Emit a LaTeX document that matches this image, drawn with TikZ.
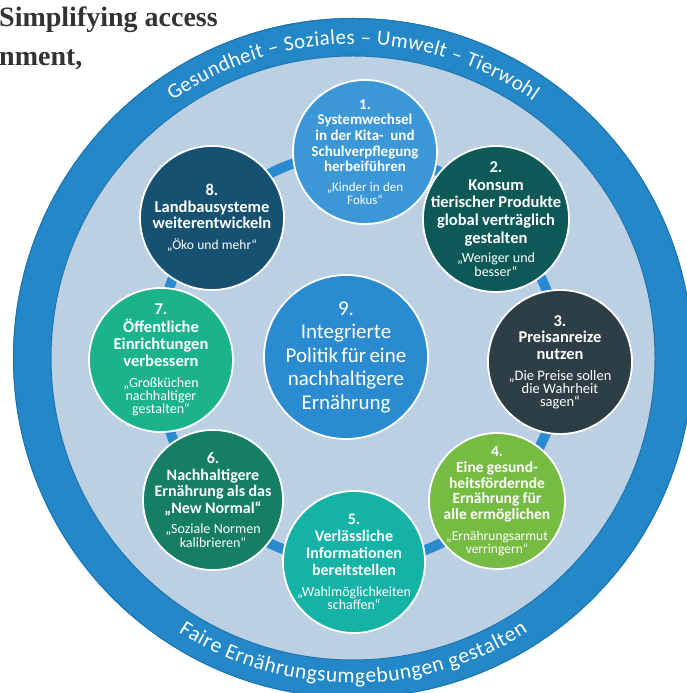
\documentclass[tikz,border=0pt]{standalone}
\usepackage{fontspec}
\setmainfont{Carlito}
\newfontfamily\serifhead{Liberation Serif}
\usetikzlibrary{calc,decorations.text}

\pgfdeclarelayer{base}
\pgfdeclarelayer{links}
\pgfsetlayers{base,links,main}

\definecolor{ringblue}{HTML}{2488C8}
\definecolor{ringedge}{HTML}{1E74AE}
\definecolor{innerfill}{HTML}{BCD0E4}
\definecolor{linkblue}{HTML}{2A8AD0}
\definecolor{headgray}{HTML}{333333}
\definecolor{fillA}{HTML}{3C97D7}
\definecolor{fillB}{HTML}{0D5957}
\definecolor{fillC}{HTML}{2D3E46}
\definecolor{fillD}{HTML}{76BC43}
\definecolor{fillE}{HTML}{15B2A6}
\definecolor{fillF}{HTML}{157E63}
\definecolor{fillG}{HTML}{1BB38B}
\definecolor{fillH}{HTML}{175171}
\definecolor{fillI}{HTML}{2A8BD0}

\newcommand\titlefont[2]{\fontsize{#1}{#2}\selectfont\bfseries}
\newcommand\quotefont[2]{\fontsize{#1}{#2}\selectfont\mdseries}
\newcommand\toprimfont{\fontsize{21}{21}\selectfont}
\newcommand\lowrimfont{\fontsize{21.5}{21.5}\selectfont}

\tikzset{
  bubble/.style={circle, draw=white, line width=1.8pt, inner sep=0pt, minimum size=#1},
  blurb/.style={text=white, align=center, text width=160pt, inner sep=0pt},
  link/.style={draw=linkblue, line width=10pt},
  heading/.style={anchor=base west, inner sep=0pt, text=headgray,
    font=\serifhead\bfseries\fontsize{28}{30}\selectfont},
}

\begin{document}
\begin{tikzpicture}[x=1pt,y=1pt]
\useasboundingbox (0,0) rectangle (686,693);
\coordinate (O) at (353,335);

% page, outer ring and light inner disc
\begin{pgfonlayer}{base}
  \fill[white] (0,0) rectangle (686,693);
  \fill[ringblue] (O) circle[radius=340];
  \draw[ringedge, line width=1pt] (O) circle[radius=339.5];
  \fill[innerfill] (O) circle[radius=302];
  \draw[ringedge, line width=1pt] (O) circle[radius=302];
\end{pgfonlayer}

% ring captions
\path[decorate, decoration={text along path, text align={fit to path},
  text color=white, text={|\toprimfont|Gesundheit – Soziales – Umwelt – Tierwohl}}]
  ($(O)+(125:314)$) arc[start angle=125, end angle=55, radius=314];
\path[decorate, decoration={text along path, text align={fit to path},
  text color=white, text={|\lowrimfont|Faire Ernährungsumgebungen gestalten}}]
  ($(O)+(237.5:325)$) arc[start angle=237.5, end angle=302.5, radius=325];

% the nine fields of action
\node[bubble=144pt, fill=fillA] (c1) at (365,541) {};
\node[bubble=146pt, fill=fillB] (c2) at (496,474) {};
\node[bubble=144pt, fill=fillC] (c3) at (560,331) {};
\node[bubble=136pt, fill=fillD] (c4) at (497,192) {};
\node[bubble=142pt, fill=fillE] (c5) at (354,131) {};
\node[bubble=140pt, fill=fillF] (c6) at (213,193) {};
\node[bubble=144pt, fill=fillG] (c7) at (161,333) {};
\node[bubble=144pt, fill=fillH] (c8) at (212,475) {};
\node[bubble=164pt, fill=fillI] (c9) at (346,336) {};

\node[blurb] (t1) at (c1) {{\titlefont{15}{15.7}1.\\Systemwechsel\\in der Kita-~ und\\Schulverpflegung\\herbeiführen\par}\vspace{6pt}{\quotefont{13}{13.3}„Kinder in den\\Fokus“\par}};
\node[blurb] (t2) at (c2) {{\titlefont{16.5}{17.7}2.\\Konsum\\tierischer Produkte\\global verträglich\\gestalten\par}\vspace{6pt}{\quotefont{14}{13.5}„Weniger und\\besser“\par}};
\node[blurb] (t3) at (c3) {{\titlefont{16.5}{16.7}3.\\Preisanreize\\nutzen\par}\vspace{8pt}{\quotefont{14.5}{12.8}„Die Preise sollen\\die Wahrheit\\sagen“\par}};
\node[blurb] (t4) at (c4) {{\titlefont{15.5}{15.7}4.\\Eine gesund-\\heitsfördernde\\Ernährung für\\alle ermöglichen\par}\vspace{8pt}{\quotefont{13.5}{12.8}„Ernährungsarmut\\verringern“\par}};
\node[blurb] (t5) at (c5) {{\titlefont{16}{17}5.\\Verlässliche\\Informationen\\bereitstellen\par}\vspace{8pt}{\quotefont{14}{12.8}„Wahlmöglichkeiten\\schaffen“\par}};
\node[blurb] (t6) at (c6) {{\titlefont{16}{16.7}6.\\Nachhaltigere\\Ernährung als das\\„New Normal“\par}\vspace{7pt}{\quotefont{14}{13.3}„Soziale Normen\\kalibrieren“\par}};
\node[blurb] (t7) at (c7) {{\titlefont{16.5}{17.3}7.\\Öffentliche\\Einrichtungen\\verbessern\par}\vspace{8pt}{\quotefont{14}{12.8}„Großküchen\\nachhaltiger\\gestalten“\par}};
\node[blurb] (t8) at (c8) {{\titlefont{16.5}{16.7}8.\\Landbausysteme\\weiterentwickeln\par}\vspace{8pt}{\quotefont{13.5}{13}„Öko und mehr“\par}};
\node[blurb] (t9) at (c9) {{\fontsize{21}{23.5}\selectfont 9.\\Integrierte\\Politik für eine\\nachhaltigere\\Ernährung\par}};

% circular chain linking the eight outer fields
\begin{pgfonlayer}{links}
  \draw[link] (c1.center) to[bend left=22] (c2.center);
  \draw[link] (c2.center) to[bend left=22] (c3.center);
  \draw[link] (c3.center) to[bend left=22] (c4.center);
  \draw[link] (c4.center) to[bend left=22] (c5.center);
  \draw[link] (c5.center) to[bend left=22] (c6.center);
  \draw[link] (c6.center) to[bend left=22] (c7.center);
  \draw[link] (c7.center) to[bend left=22] (c8.center);
  \draw[link] (c8.center) to[bend left=22] (c1.center);
\end{pgfonlayer}

% running head of the page
\node[heading] (h1) at (-1,666) {Simplifying access};
\node[heading] (h2) at (-1,627) {nment,};
\end{tikzpicture}
\end{document}
